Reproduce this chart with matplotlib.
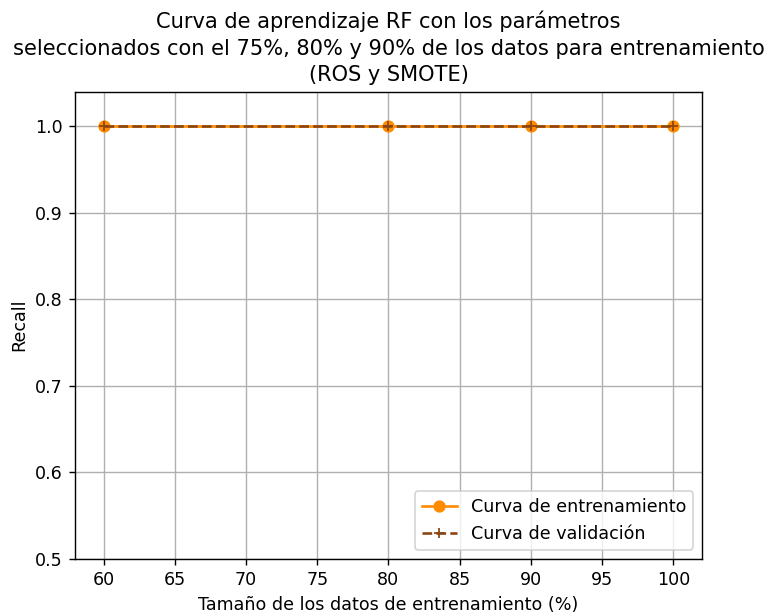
import matplotlib
matplotlib.use('Agg')
import matplotlib.pyplot as plt
import numpy as np

train_sizes = [60, 80, 90, 100]
train_recall = [1.0, 1.0, 1.0, 1.0]
val_recall = [1.0, 1.0, 1.0, 1.0]

fig, ax = plt.subplots(figsize=(767 / 126, 616 / 126), dpi=126)
fig.subplots_adjust(left=0.098, right=0.915, bottom=0.093, top=0.851)

ax.plot(train_sizes, train_recall, 'o-', color='darkorange', label='Curva de entrenamiento')
ax.plot(train_sizes, val_recall, '+--', color='saddlebrown', label='Curva de validación')

ax.set_title('Curva de aprendizaje RF con los parámetros\n'
             'seleccionados con el 75%, 80% y 90% de los datos para entrenamiento\n'
             '(ROS y SMOTE)', linespacing=1.4)
ax.set_xlabel('Tamaño de los datos de entrenamiento (%)')
ax.set_ylabel('Recall')
ax.set_ylim(0.5, 1.04)
ax.grid(True)
ax.legend(loc='lower right')

plt.savefig('out.png')
